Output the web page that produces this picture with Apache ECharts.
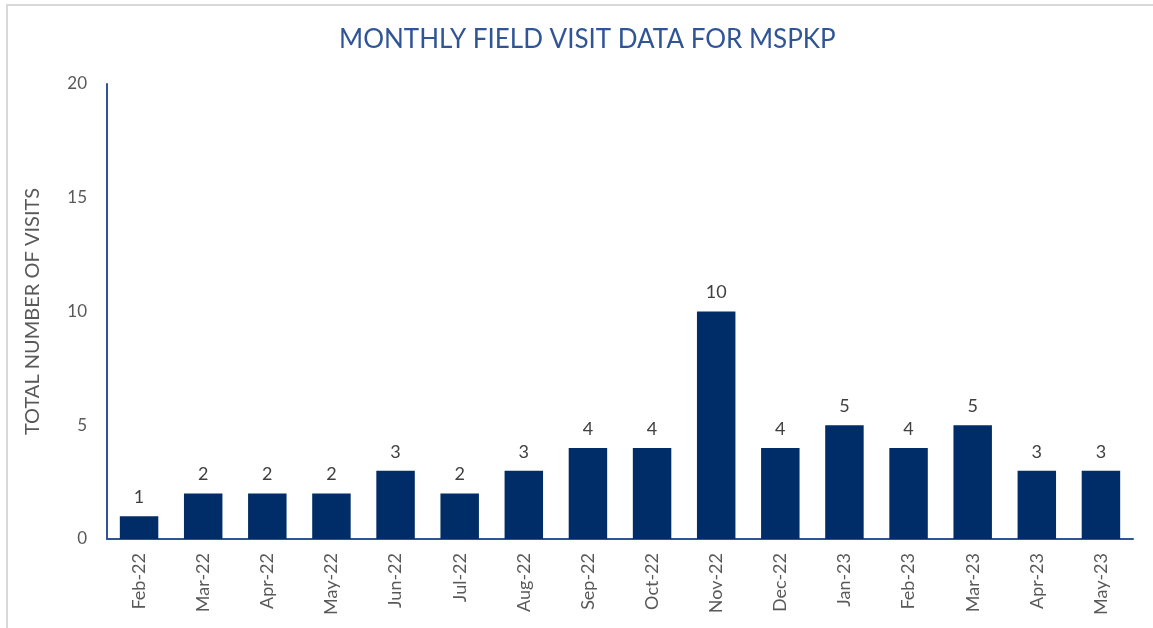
<!DOCTYPE html>
<html>
<head>
<meta charset="utf-8">
<script src="https://cdn.jsdelivr.net/npm/echarts@6/dist/echarts.min.js"></script>
<style>
  body { margin: 0; background: #fff; }
  #frame { position: absolute; left: 6px; top: 4px; width: 1147px; height: 624px;
           border-top: 2px solid #d9d9d9; border-left: 2px solid #d9d9d9; box-sizing: border-box; }
  #chart { position: absolute; left: 0; top: 0; width: 1153px; height: 628px; }
</style>
</head>
<body>
<div id="frame"></div>
<div id="chart"></div>
<script>
// 月份和走访次数
var months = ['Feb-22', 'Mar-22', 'Apr-22', 'May-22', 'Jun-22', 'Jul-22', 'Aug-22', 'Sep-22',
  'Oct-22', 'Nov-22', 'Dec-22', 'Jan-23', 'Feb-23', 'Mar-23', 'Apr-23', 'May-23']
var visits = [1, 2, 2, 2, 3, 2, 3, 4, 4, 10, 4, 5, 4, 5, 3, 3]
var yTicks = [0, 5, 10, 15, 20]

var font = 'Lato, "Open Sans", sans-serif'
var Chart = echarts.init(document.getElementById('chart'))

var option = {
  animation: false,
  title: {
    text: 'MONTHLY FIELD VISIT DATA FOR MSPKP',
    left: 334,
    top: 22,
    textStyle: { color: '#2F5597', fontSize: 26, fontWeight: 'normal', fontFamily: font }
  },
  grid: { left: 107, right: 20, top: 84, bottom: 89 },
  xAxis: {
    type: 'category',
    data: months,
    axisLine: { lineStyle: { color: '#2F5597', width: 2 } },
    axisTick: { show: false },
    axisLabel: { rotate: 90, color: '#595959', fontSize: 18, fontFamily: font, margin: 14 }
  },
  yAxis: {
    type: 'value',
    min: yTicks[0],
    max: yTicks[yTicks.length - 1],
    interval: 5,
    name: 'TOTAL NUMBER OF VISITS',
    nameLocation: 'middle',
    nameGap: 64,
    nameTextStyle: { color: '#595959', fontSize: 20, fontFamily: font },
    axisLine: { show: true, lineStyle: { color: '#2F5597', width: 2 } },
    axisTick: { show: false },
    splitLine: { show: false },
    axisLabel: { color: '#595959', fontSize: 17, fontFamily: font, margin: 20 }
  },
  series: [{
    type: 'bar',
    data: visits,
    barCategoryGap: '40%',
    itemStyle: { color: '#002D67' },
    label: {
      show: true,
      position: 'top',
      distance: 10,
      color: '#404040',
      fontSize: 18,
      fontFamily: font
    }
  }]
}
Chart.setOption(option)
</script>
</body>
</html>
